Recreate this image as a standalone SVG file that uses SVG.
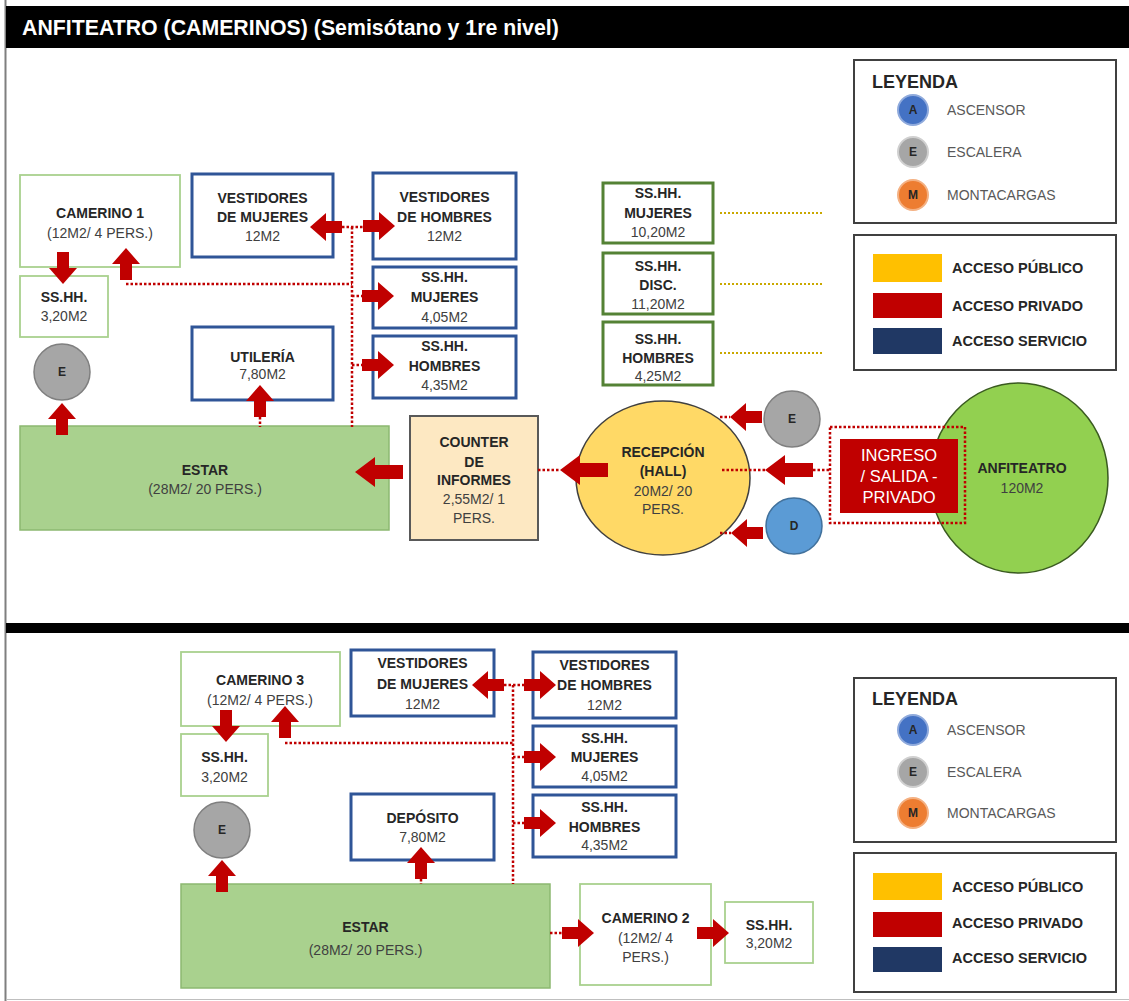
<svg xmlns="http://www.w3.org/2000/svg" xmlns:xlink="http://www.w3.org/1999/xlink" width="1129" height="1001" viewBox="0 0 1129 1001">
<style>
text{font-family:"Liberation Sans",Arial,sans-serif;text-anchor:middle}
.b{font-weight:bold;font-size:14px;fill:#262626}
.n{font-size:14px;fill:#404040}
.blue{fill:#fff;stroke:#2f5597;stroke-width:3}
.lg{fill:#fff;stroke:#a9d18e;stroke-width:1.8}
.dg{fill:#fff;stroke:#548235;stroke-width:3}
.estar{fill:#a9d18e;stroke:#8cb870;stroke-width:1.5}
.circE{fill:#a6a6a6;stroke:#7f7f7f;stroke-width:1.5}
.dot{fill:none;stroke:#c00000;stroke-width:2.5;stroke-dasharray:2.5 2}
.ydot{fill:none;stroke:#c9a800;stroke-width:2;stroke-dasharray:2 2}
.lgd{fill:#fff;stroke:#404040;stroke-width:2}
.lt{font-size:14px;fill:#595959;text-anchor:start}
.lb{font-size:14.5px;font-weight:bold;fill:#262626;text-anchor:start}
.ci{font-size:12px;font-weight:bold;fill:#262626}
</style>
<defs>
<path id="aS" d="M-32,-6H-16V-14L0,0L-16,14V6H-32Z" fill="#c00000"/>
<path id="aL" d="M-48,-7H-20V-15L0,0L-20,15V7H-48Z" fill="#c00000"/>
</defs>
<rect x="0" y="0" width="1129" height="1001" fill="#fff"/>
<!-- frame -->
<g id="frame">
<line x1="5.5" y1="0" x2="5.5" y2="1001" stroke="#7f7f7f" stroke-width="2"/>
<rect x="6" y="6" width="1123" height="42" fill="#000"/>
<text x="22" y="35" style="font-weight:bold;font-size:21.3px;fill:#fff;text-anchor:start">ANFITEATRO (CAMERINOS) (Semisótano y 1re nivel)</text>
<rect x="6" y="623" width="1123" height="10" fill="#000"/>
<line x1="6" y1="999.5" x2="1129" y2="999.5" stroke="#bfbfbf" stroke-width="1"/>
</g>

<!-- TOP SECTION -->
<g id="camerino1"><rect class="lg" x="20" y="175" width="160" height="92"/>
<text class="b" x="100" y="218">CAMERINO 1</text><text class="n" x="100" y="238">(12M2/ 4 PERS.)</text></g>
<g id="sshh1"><rect class="lg" x="20" y="276" width="88" height="61"/>
<text class="b" x="64" y="302">SS.HH.</text><text class="n" x="64" y="321">3,20M2</text></g>
<g id="escalera1"><circle class="circE" cx="62" cy="372" r="28"/><text class="ci" x="62" y="376">E</text></g>
<g id="vestMuj1"><rect class="blue" x="192" y="174" width="141" height="83"/>
<text class="b" x="262.5" y="203">VESTIDORES</text><text class="b" x="262.5" y="222">DE MUJERES</text><text class="n" x="262.5" y="241">12M2</text></g>
<g id="utileria"><rect class="blue" x="192" y="327" width="141" height="73"/>
<text class="b" x="262.5" y="362">UTILERÍA</text><text class="n" x="262.5" y="379">7,80M2</text></g>
<g id="vestHom1"><rect class="blue" x="373" y="173" width="143" height="86"/>
<text class="b" x="444.5" y="202">VESTIDORES</text><text class="b" x="444.5" y="222">DE HOMBRES</text><text class="n" x="444.5" y="241">12M2</text></g>
<g id="sshhMuj1"><rect class="blue" x="373" y="267" width="143" height="61"/>
<text class="b" x="444.5" y="282">SS.HH.</text><text class="b" x="444.5" y="302">MUJERES</text><text class="n" x="444.5" y="322">4,05M2</text></g>
<g id="sshhHom1"><rect class="blue" x="373" y="336" width="143" height="62"/>
<text class="b" x="444.5" y="351">SS.HH.</text><text class="b" x="444.5" y="371">HOMBRES</text><text class="n" x="444.5" y="390">4,35M2</text></g>
<g id="sshhMujPub"><rect class="dg" x="603" y="183" width="110" height="60"/>
<text class="b" x="658" y="198">SS.HH.</text><text class="b" x="658" y="218">MUJERES</text><text class="n" x="658" y="237">10,20M2</text></g>
<g id="sshhDisc"><rect class="dg" x="603" y="253" width="110" height="61"/>
<text class="b" x="658" y="271">SS.HH.</text><text class="b" x="658" y="290">DISC.</text><text class="n" x="658" y="309">11,20M2</text></g>
<g id="sshhHomPub"><rect class="dg" x="603" y="322" width="110" height="63"/>
<text class="b" x="658" y="344">SS.HH.</text><text class="b" x="658" y="363">HOMBRES</text><text class="n" x="658" y="381">4,25M2</text></g>
<g id="estar1"><rect class="estar" x="20" y="426" width="369" height="104"/>
<text class="b" x="205" y="475">ESTAR</text><text class="n" x="205" y="494">(28M2/ 20 PERS.)</text></g>
<g id="counter"><rect x="410" y="416" width="128" height="124" fill="#fde8c2" stroke="#595959" stroke-width="2"/>
<text class="b" x="474" y="447">COUNTER</text><text class="b" x="474" y="467">DE</text><text class="b" x="474" y="485">INFORMES</text><text class="n" x="474" y="504">2,55M2/ 1</text><text class="n" x="474" y="523">PERS.</text></g>
<g id="recepcion"><ellipse cx="663" cy="478" rx="87" ry="77" fill="#ffd966" stroke="#404040" stroke-width="1.5"/>
<text class="b" x="663" y="457">RECEPCIÓN</text><text class="b" x="663" y="476">(HALL)</text><text class="n" x="663" y="496">20M2/ 20</text><text class="n" x="663" y="514">PERS.</text></g>
<g id="escalera2"><circle class="circE" cx="792" cy="419" r="28"/><text class="ci" x="792" y="423">E</text></g>
<g id="discap"><circle cx="794" cy="526" r="28" fill="#5b9bd5" stroke="#41719c" stroke-width="1.5"/><text class="ci" x="794" y="530">D</text></g>
<g id="anfiteatro"><ellipse cx="1019" cy="478" rx="89" ry="95" fill="#92d050" stroke="#3a5a20" stroke-width="1.5"/>
<text class="b" x="1022" y="473">ANFITEATRO</text><text class="n" x="1022" y="493">120M2</text></g>
<g id="ingreso"><rect x="840" y="439" width="118" height="74" fill="#c00000"/>
<text x="899" y="461" style="font-size:16.5px;fill:#fff">INGRESO</text><text x="899" y="482" style="font-size:16.5px;fill:#fff">/ SALIDA -</text><text x="899" y="503" style="font-size:16.5px;fill:#fff">PRIVADO</text></g>
<g id="leyenda1">
<rect class="lgd" x="854" y="60" width="262" height="163"/>
<text x="872" y="88" style="font-size:18px;font-weight:bold;fill:#262626;text-anchor:start">LEYENDA</text>
<circle cx="913" cy="110" r="15" fill="#4472c4" stroke="#8faadc" stroke-width="2"/><text class="ci" x="913" y="114">A</text><text class="lt" x="947" y="115">ASCENSOR</text>
<circle cx="913" cy="152" r="15" fill="#a6a6a6" stroke="#d0d0d0" stroke-width="2"/><text class="ci" x="913" y="156">E</text><text class="lt" x="947" y="157">ESCALERA</text>
<circle cx="913" cy="195" r="15" fill="#ed7d31" stroke="#f4b183" stroke-width="2"/><text class="ci" x="913" y="199">M</text><text class="lt" x="947" y="200">MONTACARGAS</text>
</g>
<g id="accesos1">
<rect class="lgd" x="854" y="235" width="262" height="135"/>
<rect x="873" y="254" width="69" height="28" fill="#ffc000"/><text class="lb" x="952" y="273">ACCESO PÚBLICO</text>
<rect x="873" y="293" width="69" height="25" fill="#c00000"/><text class="lb" x="952" y="311">ACCESO PRIVADO</text>
<rect x="873" y="328" width="69" height="26" fill="#203864"/><text class="lb" x="952" y="346">ACCESO SERVICIO</text>
</g>

<!-- BOTTOM SECTION -->
<g id="camerino3"><rect class="lg" x="181" y="652" width="159" height="74"/>
<text class="b" x="260" y="685">CAMERINO 3</text><text class="n" x="260" y="705">(12M2/ 4 PERS.)</text></g>
<g id="sshh3"><rect class="lg" x="181" y="734" width="87" height="62"/>
<text class="b" x="224.5" y="762">SS.HH.</text><text class="n" x="224.5" y="782">3,20M2</text></g>
<g id="escalera3"><circle class="circE" cx="222" cy="830" r="28"/><text class="ci" x="222" y="834">E</text></g>
<g id="vestMuj2"><rect class="blue" x="351" y="650" width="143" height="66"/>
<text class="b" x="422.5" y="668">VESTIDORES</text><text class="b" x="422.5" y="689">DE MUJERES</text><text class="n" x="422.5" y="709">12M2</text></g>
<g id="vestHom2"><rect class="blue" x="533" y="652" width="143" height="66"/>
<text class="b" x="604.5" y="670">VESTIDORES</text><text class="b" x="604.5" y="690">DE HOMBRES</text><text class="n" x="604.5" y="710">12M2</text></g>
<g id="sshhMuj2"><rect class="blue" x="533" y="726" width="143" height="61"/>
<text class="b" x="604.5" y="743">SS.HH.</text><text class="b" x="604.5" y="762">MUJERES</text><text class="n" x="604.5" y="781">4,05M2</text></g>
<g id="sshhHom2"><rect class="blue" x="533" y="795" width="143" height="62"/>
<text class="b" x="604.5" y="812">SS.HH.</text><text class="b" x="604.5" y="832">HOMBRES</text><text class="n" x="604.5" y="850">4,35M2</text></g>
<g id="deposito"><rect class="blue" x="351" y="794" width="143" height="66"/>
<text class="b" x="422.5" y="823">DEPÓSITO</text><text class="n" x="422.5" y="842">7,80M2</text></g>
<g id="estar2"><rect class="estar" x="181" y="884" width="369" height="104"/>
<text class="b" x="365.5" y="932">ESTAR</text><text class="n" x="365.5" y="955">(28M2/ 20 PERS.)</text></g>
<g id="camerino2"><rect class="lg" x="580" y="884" width="131" height="101"/>
<text class="b" x="645.5" y="923">CAMERINO 2</text><text class="n" x="645.5" y="943">(12M2/ 4</text><text class="n" x="645.5" y="962">PERS.)</text></g>
<g id="sshh2"><rect class="lg" x="725" y="902" width="88" height="61"/>
<text class="b" x="769" y="930">SS.HH.</text><text class="n" x="769" y="948">3,20M2</text></g>
<g id="leyenda2">
<rect class="lgd" x="854" y="678" width="262" height="164"/>
<text x="872" y="705" style="font-size:18px;font-weight:bold;fill:#262626;text-anchor:start">LEYENDA</text>
<circle cx="913" cy="730" r="15" fill="#4472c4" stroke="#8faadc" stroke-width="2"/><text class="ci" x="913" y="734">A</text><text class="lt" x="947" y="735">ASCENSOR</text>
<circle cx="913" cy="772" r="15" fill="#a6a6a6" stroke="#d0d0d0" stroke-width="2"/><text class="ci" x="913" y="776">E</text><text class="lt" x="947" y="777">ESCALERA</text>
<circle cx="913" cy="813" r="15" fill="#ed7d31" stroke="#f4b183" stroke-width="2"/><text class="ci" x="913" y="817">M</text><text class="lt" x="947" y="818">MONTACARGAS</text>
</g>
<g id="accesos2">
<rect class="lgd" x="854" y="853" width="262" height="139"/>
<rect x="873" y="873" width="69" height="27" fill="#ffc000"/><text class="lb" x="952" y="892">ACCESO PÚBLICO</text>
<rect x="873" y="912" width="69" height="25" fill="#c00000"/><text class="lb" x="952" y="928">ACCESO PRIVADO</text>
<rect x="873" y="947" width="69" height="25" fill="#203864"/><text class="lb" x="952" y="963">ACCESO SERVICIO</text>
</g>

<!-- connectors -->
<g id="connectors">
<path class="dot" d="M126,284H352M352,227V427M342,227H363M352,296H362M352,365H362M260,417V427M538,470H560M722,470H765M813,470H830M720,417H730M720,533H731"/>
<rect class="dot" x="830" y="427" width="135" height="96"/>
<path class="ydot" d="M720,213H822M720,284H822M720,353H822"/>
<path class="dot" d="M285,743H513M513,685V884M504,685H525M513,757H525M513,823H525M421,879V884M550,933H562"/>
<use xlink:href="#aS" transform="translate(63,284) rotate(90)"/>
<use xlink:href="#aS" transform="translate(126,248) rotate(-90)"/>
<use xlink:href="#aS" transform="translate(310,227) rotate(180)"/>
<use xlink:href="#aS" transform="translate(395,226)"/>
<use xlink:href="#aS" transform="translate(394,296)"/>
<use xlink:href="#aS" transform="translate(394,365)"/>
<use xlink:href="#aS" transform="translate(260,385) rotate(-90)"/>
<use xlink:href="#aS" transform="translate(62,403) rotate(-90)"/>
<use xlink:href="#aL" transform="translate(355,472) rotate(180)"/>
<use xlink:href="#aL" transform="translate(560,470) rotate(180)"/>
<use xlink:href="#aS" transform="translate(730,417) rotate(180)"/>
<use xlink:href="#aS" transform="translate(731,533) rotate(180)"/>
<use xlink:href="#aL" transform="translate(765,470) rotate(180)"/>
<use xlink:href="#aS" transform="translate(226,742) rotate(90)"/>
<use xlink:href="#aS" transform="translate(285,706) rotate(-90)"/>
<use xlink:href="#aS" transform="translate(472,685) rotate(180)"/>
<use xlink:href="#aS" transform="translate(556,685)"/>
<use xlink:href="#aS" transform="translate(556,757)"/>
<use xlink:href="#aS" transform="translate(556,823)"/>
<use xlink:href="#aS" transform="translate(421,847) rotate(-90)"/>
<use xlink:href="#aS" transform="translate(222,860) rotate(-90)"/>
<use xlink:href="#aS" transform="translate(594,933)"/>
<use xlink:href="#aS" transform="translate(729,933)"/>
</g>
</svg>
